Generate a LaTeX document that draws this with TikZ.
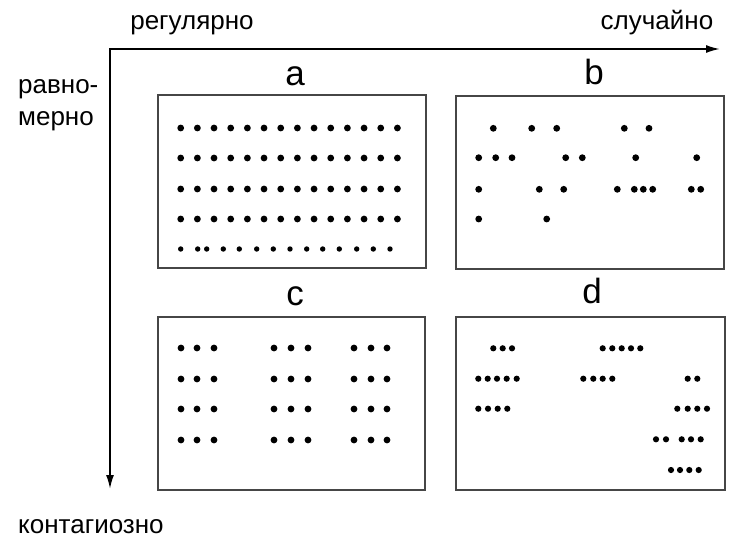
\documentclass[tikz,border=0pt]{standalone}
\usepackage{fontspec}
\setmainfont{Liberation Sans}
\usetikzlibrary{arrows.meta}
\definecolor{boxgray}{RGB}{70,70,70}
\begin{document}
\begin{tikzpicture}[x=1pt,y=-1pt,
  panel/.style={draw=boxgray,line width=2pt},
  axis/.style={line width=1.8pt,{Latex[length=14pt,width=8pt]}-{Latex[length=14pt,width=8pt]}},
  axlabel/.style={font=\fontsize{26}{30}\selectfont,inner sep=0pt},
  plabel/.style={font=\fontsize{35}{40}\selectfont,inner sep=0pt,anchor=base},
  dot/.style={fill=black}]
\useasboundingbox (0,0) rectangle (747,552);
% axes
\coordinate (corner) at (110,49);
\coordinate (xend) at (720,49);
\coordinate (yend) at (110,489);
\draw[axis] (xend) -- (corner) -- (yend);
% axis labels
\node[axlabel,anchor=base] (reg) at (192,29) {регулярно};
\node[axlabel,anchor=base] (slu) at (657,29) {случайно};
\node[axlabel,anchor=base west] (rav) at (18,93) {равно-};
\node[axlabel,anchor=base west] (mer) at (18,125) {мерно};
\node[axlabel,anchor=base west] (kon) at (18,533) {контагиозно};
% panels
\draw[panel] (158,95) rectangle (426,268);
\draw[panel] (456,96) rectangle (724,269);
\draw[panel] (158,317) rectangle (425,490);
\draw[panel] (456,317) rectangle (725,490);
\node[plabel] (la) at (295,85) {a};
\node[plabel] (lb) at (594,84) {b};
\node[plabel] (lc) at (295,305) {c};
\node[plabel] (ld) at (592,303) {d};
% panel a
\foreach \y in {128,158,189,219}
  \foreach \i in {0,...,13}
    \fill[dot] ({180.7+16.67*\i},\y) circle (3.4);
\foreach \x in {180.7,197.7,206.7,223.3,239.3,256.7,273.3,290,306.7,322.7,339.3,356.7,373.3,390}
  \fill[dot] (\x,249) circle (2.7);
% panel b
\foreach \x in {493.3,531.7,556.7,624.3,649}
  \fill[dot] (\x,128.3) circle (3.4);
\foreach \x in {478.7,495.7,512,565.7,582.3,635.7,696.7}
  \fill[dot] (\x,157.7) circle (3.4);
\foreach \x in {478.7,539.3,563.7,617.3,634.3,643.3,652.7,691.3,700.7}
  \fill[dot] (\x,189.3) circle (3.4);
\foreach \x in {478.7,546.7}
  \fill[dot] (\x,219) circle (3.4);
% panel c
\foreach \y in {348,379,409,440}
  \foreach \x in {181,197,214,274,291,308,354,371,387}
    \fill[dot] (\x,\y) circle (3.4);
% panel d
\foreach \x in {493.3,502.7,512,602.7,612.3,621.7,631,640.3}
  \fill[dot] (\x,348.3) circle (3.1);
\foreach \x in {478.3,487.7,497,506.7,516.7,583.3,593.3,602.7,612.3,687.7,697.3}
  \fill[dot] (\x,378.7) circle (3.1);
\foreach \x in {478.3,488,497.7,507.3,677.3,687.7,697.3,707}
  \fill[dot] (\x,408.7) circle (3.1);
\foreach \x in {656,666,681.7,691,700.7}
  \fill[dot] (\x,439.3) circle (3.1);
\foreach \x in {671,680,689.3,698.7}
  \fill[dot] (\x,470) circle (3.1);
\end{tikzpicture}
\end{document}
